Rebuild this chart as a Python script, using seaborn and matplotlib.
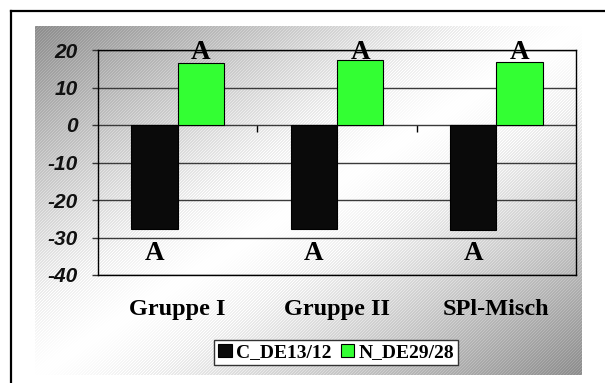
import numpy as np
import pandas as pd
import matplotlib
matplotlib.use("Agg")
import matplotlib.pyplot as plt
from matplotlib.lines import Line2D
import seaborn as sns

# Data
groups = ["Gruppe I", "Gruppe II", "SPl-Misch"]
series = ["C_DE13/12", "N_DE29/28"]
c_values = [-27.6, -27.6, -27.9]
n_values = [16.6, 17.4, 16.8]
c_letters = ["A", "A", "A"]
n_letters = ["A", "A", "A"]
y_ticks = [-40, -30, -20, -10, 0, 10, 20]

colors = {"C_DE13/12": "#0a0a0a", "N_DE29/28": "#33ff33"}

df = pd.DataFrame({
    "group": groups * 2,
    "series": [series[0]] * 3 + [series[1]] * 3,
    "value": c_values + n_values,
})

W, H = 605, 383
fig = plt.figure(figsize=(W / 100, H / 100), dpi=100, facecolor="white")

# Shaded backdrop: diagonal grey-white-grey gradient with fine light stripes
bx0, by0, bx1, by1 = 35, 26, 582, 375
bw, bh = bx1 - bx0, by1 - by0
yy, xx = np.mgrid[0:bh, 0:bw]
t = (xx / (bw - 1) + yy / (bh - 1)) / 2.0
d = np.abs(2 * t - 1)
v = 1 - 0.45 * d ** 1.2
stripes = ((xx + yy) % 3 == 0)
v = np.where(stripes, np.clip(v + 0.07, 0, 1), v)
img = np.dstack([v, v, v])
bg = fig.add_axes([bx0 / W, 1 - by1 / H, bw / W, bh / H], zorder=0)
bg.imshow(img, aspect="auto", interpolation="nearest")
bg.axis("off")

# Outer frame (top and left edges)
fig.add_artist(Line2D([11 / W, 1.0], [1 - 11 / H, 1 - 11 / H],
                      transform=fig.transFigure, color="black", lw=1.6))
fig.add_artist(Line2D([11 / W, 11 / W], [0.0, 1 - 11 / H],
                      transform=fig.transFigure, color="black", lw=1.6))

# Plot area
ax = fig.add_axes([98 / W, 1 - 275 / H, 478 / W, 225 / H], zorder=1)
ax.set_facecolor("none")

sns.barplot(data=df, x="group", y="value", hue="series", order=groups,
            hue_order=series, palette=colors, width=0.58, ax=ax,
            edgecolor="black", linewidth=0.8, saturation=1, errorbar=None)

ax.set_ylim(-40, 20)
ax.set_xlim(-0.5, len(groups) - 0.5)
ax.set_xlabel("")
ax.set_ylabel("")
ax.set_axisbelow(True)
ax.yaxis.grid(True, color="#3a3a3a", lw=1)
ax.xaxis.grid(False)
for s in ax.spines.values():
    s.set_color("black")
    s.set_linewidth(1)

ax.set_yticks(y_ticks)
ax.set_yticklabels([str(v) for v in y_ticks])
for lab in ax.get_yticklabels():
    lab.set_fontfamily("Liberation Sans")
    lab.set_fontweight("bold")
    lab.set_fontstyle("italic")
    lab.set_fontsize(15)
    lab.set_color("#111111")
ax.tick_params(axis="y", length=4.5, width=1, color="#333333", pad=10)

ax.set_xticks(range(len(groups)))
ax.set_xticklabels(groups, fontfamily="Liberation Serif", fontweight="bold",
                   fontsize=17.5)
ax.tick_params(axis="x", length=0, pad=17)

# Category separators on the zero line
zero_frac = (0 - (-40)) / (20 - (-40))
sec = ax.secondary_xaxis(zero_frac)
sec.xaxis.set_ticks_position("bottom")
sec.spines["top"].set_visible(False)
sec.spines["bottom"].set_visible(False)
sec.set_xticks([i + 0.5 for i in range(len(groups) - 1)])
sec.tick_params(axis="x", length=5, width=1, color="black", direction="out",
                labelbottom=False, labeltop=False)

# Significance letters
for cont, letters, ypos in ((ax.containers[0], c_letters, -36.1),
                            (ax.containers[1], n_letters, 17.5)):
    for patch, letter in zip(cont.patches, letters):
        xc = patch.get_x() + patch.get_width() / 2
        ax.text(xc, ypos, letter, ha="center", va="baseline",
                fontfamily="Liberation Serif", fontweight="bold",
                fontsize=19.5, color="black", zorder=5)

# Legend
handles, labels = ax.get_legend_handles_labels()
if ax.get_legend() is not None:
    ax.get_legend().remove()
leg = fig.legend(handles, labels, loc="center",
                 bbox_to_anchor=(336 / W, 1 - 352.5 / H),
                 bbox_transform=fig.transFigure, ncol=2, frameon=True,
                 fancybox=False, edgecolor="#333333", framealpha=1,
                 prop={"family": "Liberation Serif", "weight": "bold", "size": 14},
                 handlelength=0.7, handleheight=0.7, handletextpad=0.2,
                 columnspacing=0.5, borderpad=0.2, borderaxespad=0)
leg.get_frame().set_linewidth(1)
leg.set_zorder(3)

fig.savefig("out.png", dpi=100, facecolor="white")
